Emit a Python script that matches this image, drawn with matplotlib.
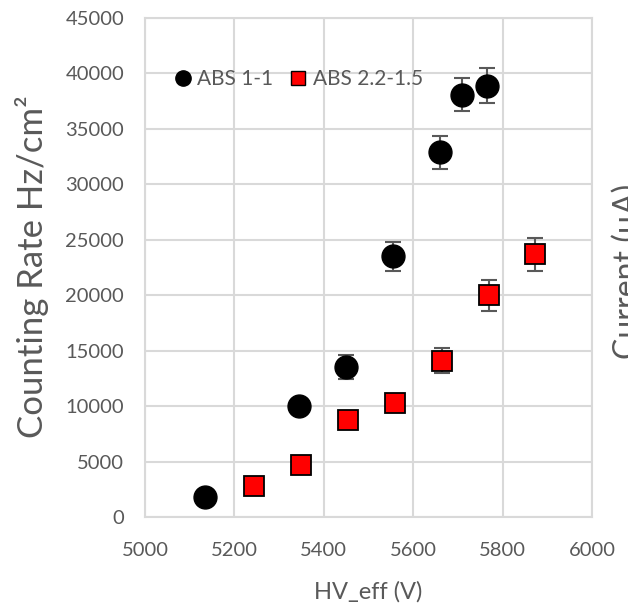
import matplotlib.pyplot as plt
from matplotlib.lines import Line2D

plt.rcParams['font.family'] = ['Lato', 'DejaVu Sans']

hv_a = [5134, 5345, 5450, 5555, 5660, 5709, 5765]
rate_a = [1800, 10000, 13500, 23500, 32900, 38100, 38900]
err_a = [400, 500, 1100, 1300, 1500, 1500, 1550]

hv_b = [5244, 5349, 5454, 5559, 5664, 5770, 5873]
rate_b = [2800, 4700, 8750, 10300, 14100, 20000, 23700]
err_b = [300, 400, 500, 700, 1100, 1400, 1500]

grey = '#595959'

fig = plt.figure(figsize=(6.28, 6.06), dpi=100)
ax = fig.add_axes([0.2309, 0.1469, 0.7118, 0.8234])

ax.errorbar(hv_a, rate_a, yerr=err_a, fmt='none', ecolor=grey, elinewidth=1.5,
            capsize=6, capthick=1.5, zorder=2)
ax.errorbar(hv_b, rate_b, yerr=err_b, fmt='none', ecolor=grey, elinewidth=1.5,
            capsize=6, capthick=1.5, zorder=2)
ax.plot(hv_a, rate_a, 'o', color='black', markersize=16.5, zorder=3)
ax.plot(hv_b, rate_b, 's', color='red', markeredgecolor='black', markeredgewidth=1.3,
        markersize=15, zorder=3)

ax.set_xlim(5000, 6000)
ax.set_ylim(0, 45000)
ax.set_xticks(range(5000, 6001, 200))
ax.set_yticks(range(0, 45001, 5000))
ax.grid(True, color='#d9d9d9', linewidth=1.5)
ax.set_axisbelow(True)
for s in ax.spines.values():
    s.set_color('#d9d9d9')
    s.set_linewidth(1.5)
ax.tick_params(length=0, labelsize=14.5, colors=grey)
ax.tick_params(axis='x', pad=18)
ax.tick_params(axis='y', pad=15)

ax.set_xlabel('HV_eff (V)', fontsize=17, color=grey, labelpad=16)
fig.text(32 / 628, 1 - 267 / 606, 'Counting Rate Hz/cm²', rotation=90, fontsize=25,
         color=grey, ha='center', va='center')

handles = [
    Line2D([], [], marker='o', linestyle='none', color='black', markersize=11),
    Line2D([], [], marker='s', linestyle='none', color='red', markeredgecolor='black',
           markersize=10),
]
ax.legend(handles, ['ABS 1-1', 'ABS 2.2-1.5'], ncol=2, frameon=False,
          loc='center left', bbox_to_anchor=(0.033, 0.877), fontsize=15,
          labelcolor=grey, handletextpad=0.0, columnspacing=0.5, handlelength=1.4,
          borderaxespad=0)

fig.text(0.998, 1 - 271 / 606, 'Current (μA)', rotation=90, fontsize=23, color=grey,
         ha='center', va='center')

fig.savefig('out.png', dpi=100)
